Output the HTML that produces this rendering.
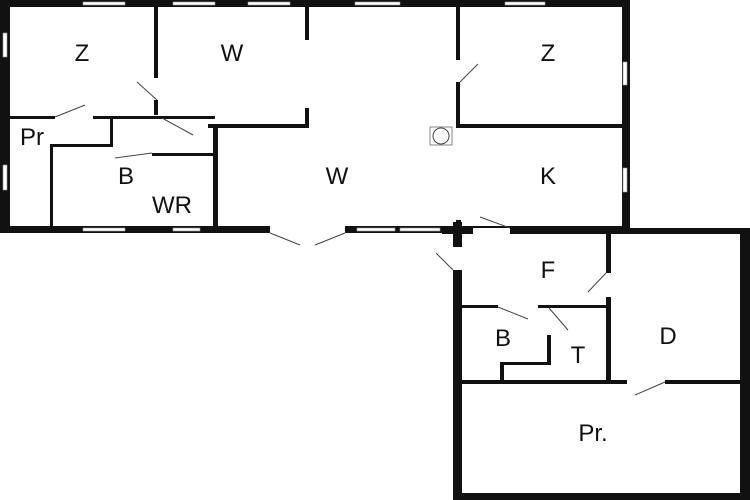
<!DOCTYPE html><html><head><style>body{margin:0;background:#fff}svg{display:block}text{font-family:"Liberation Sans",sans-serif;font-size:24px;fill:#111;text-anchor:middle}</style></head><body>
<svg width="750" height="500" viewBox="0 0 750 500" xmlns="http://www.w3.org/2000/svg">
<rect width="750" height="500" fill="#fff"/>
<g fill="#111">
<!-- main outer -->
<rect x="0" y="0" width="630" height="7"/>
<rect x="0" y="0" width="10" height="233"/>
<rect x="622" y="0" width="8" height="233"/>
<rect x="0" y="226" width="630" height="7"/>
<!-- annex outer -->
<rect x="442" y="228" width="308" height="6"/>
<rect x="453" y="222" width="9" height="278"/>
<rect x="740" y="228" width="10" height="272"/>
<rect x="453" y="493" width="297" height="7"/>
<!-- interior main -->
<rect x="154" y="7" width="4" height="108"/>
<rect x="10" y="116" width="45" height="3"/>
<rect x="93" y="116" width="122" height="3"/>
<rect x="110" y="116" width="3" height="30"/>
<rect x="50" y="144" width="63" height="3"/>
<rect x="50" y="144" width="3" height="84"/>
<rect x="213" y="124" width="5" height="104"/>
<rect x="208" y="124" width="100" height="4"/>
<rect x="305" y="7" width="4" height="33"/>
<rect x="305" y="108" width="4" height="20"/>
<rect x="152" y="153" width="63" height="3"/>
<rect x="456" y="7" width="4" height="53"/>
<rect x="456" y="82" width="4" height="46"/>
<rect x="456" y="124" width="166" height="4"/>
<rect x="456" y="220" width="5" height="14"/>
<!-- annex interior -->
<rect x="606" y="232" width="5" height="41"/>
<rect x="606" y="297" width="5" height="85"/>
<rect x="462" y="305" width="36" height="3"/>
<rect x="538" y="305" width="68" height="3"/>
<rect x="547" y="335" width="4" height="30"/>
<rect x="500" y="362" width="51" height="3"/>
<rect x="500" y="362" width="4" height="20"/>
<rect x="462" y="380" width="165" height="4"/>
<rect x="665" y="380" width="75" height="4"/>
</g>
<g fill="#fff" stroke="#999" stroke-width="0.6">
<!-- windows top -->
<rect x="83" y="2" width="42" height="3"/><rect x="173" y="2" width="42" height="3"/><rect x="248" y="2" width="42" height="3"/><rect x="355" y="2" width="45" height="3"/><rect x="505" y="2" width="40" height="3"/>
<rect x="3" y="33" width="4" height="24"/><rect x="3" y="165" width="4" height="25"/>
<rect x="623" y="62" width="4" height="23"/><rect x="623" y="168" width="4" height="24"/>
<rect x="83" y="228" width="42" height="3"/><rect x="173" y="228" width="27" height="3"/><rect x="357" y="228" width="38" height="3"/><rect x="400" y="228" width="40" height="3"/>
<rect x="270" y="226" width="75" height="7" stroke="none"/>
<rect x="473" y="228" width="37" height="6" stroke="none"/>
<rect x="453" y="247" width="9" height="23" stroke="none"/>
<rect x="154" y="78" width="4" height="22" stroke="none"/>
<rect x="456" y="60" width="4" height="22" stroke="none"/>
<rect x="606" y="273" width="5" height="24" stroke="none"/>
<rect x="547" y="308" width="4" height="27" stroke="none"/>
</g>
<g stroke="#444" stroke-width="1" fill="none">
<line x1="55" y1="117" x2="85" y2="105"/>
<line x1="157" y1="100" x2="137" y2="82"/>
<line x1="162" y1="118" x2="193" y2="135"/>
<line x1="115" y1="158" x2="152" y2="153"/>
<line x1="270" y1="233" x2="300" y2="245"/>
<line x1="345" y1="233" x2="315" y2="245"/>
<line x1="460" y1="82" x2="478" y2="64"/>
<line x1="510" y1="228" x2="480" y2="217"/>
<line x1="453" y1="270" x2="436" y2="253"/>
<line x1="606" y1="273" x2="588" y2="292"/>
<line x1="498" y1="307" x2="528" y2="319"/>
<line x1="549" y1="308" x2="568" y2="330"/>
<line x1="665" y1="382" x2="635" y2="395"/>
</g>
<circle cx="441" cy="136" r="8" fill="#fff" stroke="#444" stroke-width="1"/>
<rect x="430" y="127" width="22" height="18" fill="none" stroke="#666" stroke-width="0.8"/>
<text x="82" y="61">Z</text><text x="232" y="61">W</text><text x="548" y="61">Z</text>
<text x="32" y="145">Pr</text><text x="126" y="184">B</text><text x="172" y="213">WR</text>
<text x="337" y="184">W</text><text x="548" y="184">K</text>
<text x="548" y="278">F</text><text x="503" y="346">B</text><text x="578" y="363">T</text>
<text x="668" y="344">D</text><text x="593" y="441">Pr.</text>
</svg></body></html>
